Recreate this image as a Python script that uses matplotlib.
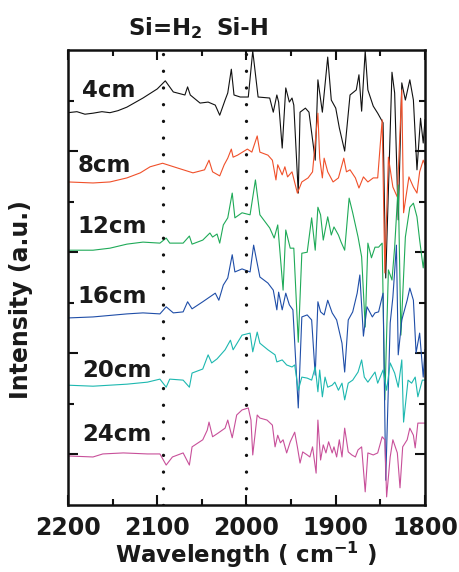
import matplotlib
matplotlib.use("Agg")
import matplotlib.pyplot as plt
from matplotlib.ticker import MultipleLocator, FixedLocator

# FTIR spectra (Si-H stretching region) at six distances, offset vertically
wn_4 = [2200, 2190, 2181, 2172, 2162, 2153, 2144, 2134, 2116, 2100, 2091, 2082,
        2069, 2066, 2063, 2052, 2043, 2035, 2030, 2024, 2021, 2017, 2014, 2007,
        1998, 1993, 1987, 1974, 1970, 1966, 1964, 1960, 1956, 1952, 1949, 1947,
        1942, 1940, 1934, 1930, 1923, 1920, 1915, 1909, 1905, 1900, 1896, 1890,
        1884, 1877, 1874, 1871, 1867, 1864, 1858, 1853, 1847, 1844, 1837, 1834,
        1830, 1826, 1822, 1817, 1813, 1809, 1805, 1802, 1800]
int_4 = [7.76, 7.78, 7.73, 7.75, 7.78, 7.76, 7.80, 7.87, 8.05, 8.23, 8.39, 8.17,
         8.11, 8.27, 8.11, 7.95, 7.97, 7.91, 7.71, 8.01, 8.15, 8.62, 8.11, 8.07,
         8.07, 8.98, 8.07, 8.05, 7.77, 8.11, 7.97, 7.06, 8.25, 7.97, 8.05, 7.91,
         6.17, 7.77, 7.85, 7.77, 6.82, 8.41, 7.77, 8.86, 8.01, 7.85, 7.46, 7.00,
         8.11, 8.21, 8.51, 7.79, 8.98, 8.21, 7.89, 7.75, 7.56, 4.49, 8.56, 8.15,
         5.64, 8.35, 8.01, 8.41, 8.01, 6.63, 7.65, 7.16, 7.62]

wn_8 = [2200, 2172, 2153, 2134, 2119, 2108, 2094, 2078, 2060, 2047, 2042, 2038,
        2030, 2025, 2021, 2017, 2015, 2010, 1999, 1994, 1988, 1985, 1976, 1971,
        1967, 1965, 1960, 1957, 1954, 1949, 1943, 1938, 1931, 1926, 1920, 1918,
        1915, 1913, 1909, 1903, 1897, 1891, 1888, 1884, 1878, 1874, 1869, 1864,
        1858, 1853, 1848, 1845, 1841, 1836, 1831, 1830, 1826, 1824, 1818, 1813,
        1809, 1806, 1802, 1800]
int_8 = [6.39, 6.37, 6.39, 6.47, 6.57, 6.69, 6.76, 6.67, 6.57, 6.63, 6.82, 6.59,
         6.51, 6.73, 6.86, 7.04, 6.88, 6.92, 7.04, 6.98, 7.30, 6.98, 6.92, 6.82,
         6.43, 6.73, 6.53, 6.69, 6.49, 6.59, 6.17, 6.39, 6.47, 6.59, 7.75, 6.86,
         6.47, 6.86, 6.59, 6.39, 6.47, 6.86, 6.59, 6.63, 6.47, 6.27, 6.49, 6.39,
         6.47, 6.47, 7.62, 4.59, 6.88, 6.29, 6.09, 6.57, 8.21, 5.78, 6.49, 6.29,
         6.17, 6.59, 6.82, 6.73]

wn_12 = [2200, 2172, 2153, 2134, 2116, 2097, 2090, 2086, 2071, 2064, 2061, 2049,
         2041, 2038, 2033, 2030, 2026, 2021, 2016, 2013, 2005, 1996, 1990, 1985,
         1974, 1969, 1965, 1959, 1956, 1951, 1947, 1942, 1938, 1932, 1927, 1923,
         1920, 1917, 1914, 1909, 1905, 1902, 1897, 1894, 1890, 1885, 1881, 1875,
         1871, 1867, 1864, 1860, 1856, 1852, 1848, 1845, 1841, 1837, 1834, 1830,
         1827, 1822, 1817, 1813, 1809, 1806, 1802, 1800]
int_12 = [5.04, 5.04, 5.08, 5.16, 5.20, 5.18, 5.28, 5.18, 5.18, 5.32, 5.16, 5.24,
          5.38, 5.30, 5.36, 5.18, 5.54, 5.68, 6.17, 5.68, 5.78, 5.74, 6.43, 5.74,
          5.48, 5.28, 5.54, 4.25, 5.44, 5.08, 5.08, 3.22, 4.98, 5.00, 5.68, 5.04,
          5.89, 5.74, 5.24, 5.70, 5.34, 5.50, 5.34, 5.20, 5.04, 6.07, 5.78, 5.30,
          4.91, 3.52, 5.18, 4.89, 5.10, 5.10, 5.18, 2.08, 4.65, 4.45, 5.10, 6.33,
          3.36, 5.30, 5.89, 5.97, 5.70, 5.24, 4.69, 5.04]

wn_16 = [2200, 2172, 2134, 2116, 2097, 2090, 2082, 2071, 2066, 2061, 2049, 2035,
         2031, 2026, 2021, 2016, 2013, 2005, 1996, 1992, 1985, 1976, 1970, 1966,
         1964, 1960, 1956, 1952, 1948, 1942, 1938, 1932, 1927, 1923, 1920, 1917,
         1913, 1909, 1904, 1899, 1893, 1890, 1886, 1881, 1876, 1873, 1869, 1865,
         1859, 1856, 1852, 1847, 1844, 1839, 1836, 1832, 1830, 1826, 1820, 1817,
         1813, 1810, 1806, 1802, 1800]
int_16 = [3.70, 3.72, 3.78, 3.80, 3.78, 3.92, 3.80, 3.82, 4.02, 3.88, 4.02, 4.19,
          4.05, 4.35, 4.49, 4.95, 4.61, 4.67, 4.61, 5.14, 4.51, 4.39, 4.25, 3.86,
          4.21, 3.86, 4.19, 3.96, 3.86, 1.92, 3.72, 3.76, 3.66, 2.57, 4.02, 3.82,
          3.76, 4.05, 3.80, 3.66, 3.20, 2.63, 3.66, 3.82, 4.19, 4.55, 3.34, 3.92,
          3.72, 3.80, 3.82, 4.19, 0.49, 3.60, 4.11, 5.14, 2.97, 3.66, 4.05, 4.29,
          4.05, 3.01, 3.40, 2.53, 3.07]

wn_20 = [2200, 2172, 2134, 2111, 2097, 2090, 2086, 2071, 2064, 2061, 2049, 2043,
         2039, 2033, 2024, 2018, 2015, 2005, 1996, 1993, 1988, 1985, 1976, 1968,
         1966, 1960, 1955, 1949, 1946, 1942, 1938, 1932, 1927, 1923, 1920, 1918,
         1915, 1912, 1909, 1904, 1901, 1897, 1893, 1890, 1886, 1881, 1875, 1871,
         1868, 1864, 1856, 1853, 1847, 1843, 1839, 1834, 1830, 1826, 1824, 1819,
         1815, 1811, 1808, 1803, 1800]
int_20 = [2.37, 2.35, 2.39, 2.43, 2.49, 2.33, 2.49, 2.47, 2.33, 2.61, 2.69, 2.97,
          2.81, 2.89, 3.07, 3.26, 3.07, 3.36, 3.40, 3.03, 3.42, 3.20, 3.07, 2.97,
          2.83, 2.87, 2.77, 2.73, 2.77, 2.27, 2.53, 2.51, 2.47, 2.73, 2.24, 2.67,
          2.14, 2.53, 2.33, 2.37, 2.43, 2.27, 2.41, 2.08, 2.41, 2.47, 2.63, 2.87,
          2.53, 2.43, 2.63, 2.41, 2.67, 2.27, 2.81, 2.61, 2.33, 2.87, 1.64, 2.47,
          2.41, 2.53, 2.14, 2.47, 2.47]

wn_24 = [2200, 2172, 2161, 2138, 2111, 2097, 2090, 2083, 2071, 2064, 2061, 2049,
         2044, 2042, 2038, 2032, 2024, 2021, 2016, 2011, 2005, 1998, 1995, 1993,
         1988, 1985, 1977, 1971, 1968, 1965, 1962, 1959, 1955, 1951, 1946, 1943,
         1940, 1937, 1932, 1929, 1926, 1922, 1920, 1917, 1914, 1911, 1908, 1904,
         1902, 1899, 1896, 1893, 1890, 1886, 1882, 1878, 1875, 1871, 1867, 1864,
         1858, 1853, 1848, 1845, 1843, 1839, 1836, 1831, 1828, 1825, 1820, 1817,
         1813, 1811, 1808, 1803, 1800]
int_24 = [0.97, 0.95, 1.01, 1.03, 1.01, 1.01, 0.79, 0.95, 1.03, 0.79, 1.15, 1.29,
          1.48, 1.64, 1.35, 1.42, 1.52, 1.68, 1.33, 1.78, 1.88, 1.92, 1.68, 0.99,
          1.78, 1.72, 1.68, 1.58, 1.15, 1.38, 1.23, 1.29, 1.03, 1.25, 1.44, 1.15,
          0.83, 1.05, 0.99, 0.95, 1.15, 0.63, 1.68, 0.89, 1.19, 1.03, 1.25, 1.03,
          1.15, 0.95, 1.29, 0.95, 1.52, 1.05, 0.99, 0.95, 1.09, 1.15, 0.26, 1.03,
          0.99, 1.03, 1.35, 1.29, 0.16, 0.95, 1.29, 1.03, 0.34, 1.15, 1.29, 1.52,
          1.38, 1.13, 1.62, 1.62, 1.62]

labels = ["4cm", "8cm", "12cm", "16cm", "20cm", "24cm"]
label_wn = [2184, 2189, 2190, 2189, 2184, 2184]
label_y = [8.07, 6.59, 5.38, 4.00, 2.53, 1.27]
colors = ["#111111", "#f0502a", "#1faa58", "#1f4ea8", "#1db8b0", "#c8509a"]

# band positions marked with dotted lines
band_wn = [2094, 2000]
band_names = ["Si=H$_\\mathbf{2}$", "Si-H"]
band_text_wn = [2091, 2004]

plt.rcParams["font.family"] = "DejaVu Sans"
plt.rcParams["font.weight"] = "bold"
plt.rcParams["axes.labelweight"] = "bold"
plt.rcParams["mathtext.default"] = "bf"

fig = plt.figure(figsize=(4.59, 5.72), dpi=100)
ax = fig.add_axes([68 / 459, 67 / 572, 357 / 459, 455 / 572])

spectra = [(wn_4, int_4), (wn_8, int_8), (wn_12, int_12),
           (wn_16, int_16), (wn_20, int_20), (wn_24, int_24)]
for (wn, inten), c in zip(spectra, colors):
    ax.plot(wn, inten, color=c, lw=0.8)

for lab, x, y in zip(labels, label_wn, label_y):
    ax.text(x, y, lab, fontsize=16.5, fontweight="bold", ha="left",
            va="baseline", color="#1a1a1a")

for w in band_wn:
    ax.axvline(w, color="#111111", lw=2.4, dashes=(0.01, 5.0),
               dash_capstyle="round", zorder=5)

trans = ax.get_xaxis_transform()
for name, x in zip(band_names, band_text_wn):
    ax.text(x, 1.033, name, transform=trans, fontsize=16.5, fontweight="bold",
            ha="center", va="baseline", color="#1a1a1a")

ax.set_xlim(2200, 1800)
ax.set_ylim(0, 9)
ax.xaxis.set_major_locator(MultipleLocator(100))
ax.xaxis.set_minor_locator(MultipleLocator(50))
ax.yaxis.set_major_locator(FixedLocator([1, 3, 5, 7]))
ax.yaxis.set_minor_locator(FixedLocator([2, 4, 6, 8]))
ax.set_yticklabels([])
ax.tick_params(which="both", direction="in", top=True, right=True,
               width=1.5, color="#111111")
ax.tick_params(which="major", length=7, labelsize=17, pad=8,
               labelcolor="#1a1a1a")
ax.tick_params(which="minor", length=4)
for s in ax.spines.values():
    s.set_linewidth(1.8)
    s.set_color("#111111")

ax.set_xlabel("Wavelength ( cm$^{-1}$ )", fontsize=16.5, fontweight="bold",
              labelpad=0, color="#1a1a1a")
fig.text(21 / 459, 1 - 300 / 572, "Intensity (a.u.)", rotation=90,
         fontsize=17, fontweight="bold", ha="center", va="center",
         color="#1a1a1a")

fig.savefig("out.png", dpi=100)
